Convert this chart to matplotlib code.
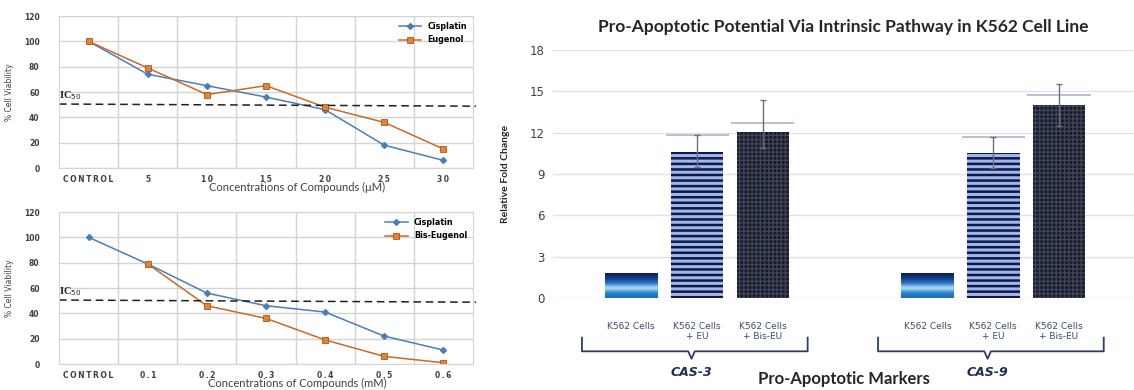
import numpy as np
import matplotlib
matplotlib.use("Agg")
import matplotlib.pyplot as plt
from matplotlib.colors import LinearSegmentedColormap

# ---- viability data (left panels) ----
conc_uM = ["CONTROL", "5", "10", "15", "20", "25", "30"]
cis_top = [100, 74, 65, 56, 46, 18, 6]
eugenol = [100, 79, 58, 65, 48, 36, 15]

conc_mM = ["CONTROL", "0.1", "0.2", "0.3", "0.4", "0.5", "0.6"]
cis_bottom = [100, 79, 56, 46, 41, 22, 11]
bis_eugenol = [np.nan, 79, 46, 36, 19, 6, 1]

# ---- fold change data (right panel) ----
bar_labels = ["K562 Cells", "K562 Cells\n+ EU", "K562 Cells\n+ Bis-EU"]
markers_names = ["CAS-3", "CAS-9"]
fold_cas3 = [1.8, 10.6, 12.05]
fold_cas9 = [1.8, 10.5, 14.0]
err_low_cas3 = [0, 1.1, 1.15]
err_up_cas3 = [0, 1.25, 2.35]
err_low_cas9 = [0, 1.1, 1.5]
err_up_cas9 = [0, 1.2, 1.5]
cap_cas3 = [np.nan, 11.8, 12.7]
cap_cas9 = [np.nan, 11.7, 14.75]

W, H = 1134, 390
fig = plt.figure(figsize=(W / 100, H / 100), dpi=100)


def px_axes(left, top, right, bottom):
    return fig.add_axes([left / W, 1 - bottom / H, (right - left) / W, (bottom - top) / H])


def viability_panel(ax, cats, cis, other, other_name, xlabel):
    x = np.arange(len(cats))
    ax.plot(x, cis, color="#4a7ebb", marker="D", ms=3, lw=1.1, label="Cisplatin")
    ax.plot(x, other, color="#c9692a", marker="s", ms=4.5, mfc="#e8822f",
            mec="#a8561f", mew=0.6, lw=1.1, label=other_name)
    ax.set_xlim(-0.5, len(cats) - 0.5)
    ax.set_ylim(0, 120)
    ax.set_yticks(range(0, 121, 20))
    ax.set_xticks(x)
    ax.set_xticklabels(["\u2009".join(c) for c in cats],
                       fontsize=5.5, fontweight="bold", color="#404040", family="DejaVu Sans")
    ax.tick_params(axis="y", labelsize=5.5, colors="#404040", length=0, pad=14)
    ax.tick_params(axis="x", length=0, pad=5)
    for lab in ax.get_yticklabels():
        lab.set_fontweight("bold")
    ax.set_xticks(np.arange(0.5, len(cats) - 0.5), minor=True)
    ax.tick_params(axis="x", which="minor", length=0)
    ax.grid(True, which="minor", axis="x", color="#d4d4d4", lw=1)
    ax.grid(True, which="major", axis="y", color="#d4d4d4", lw=1)
    for s in ax.spines.values():
        s.set_color("#d4d4d4")
    ax.set_axisbelow(True)
    ax.set_xlabel(xlabel, fontsize=8, color="#404040", family="Lato", labelpad=0)
    ax.xaxis.set_label_coords(0.575, -0.095)
    ax.set_ylabel("% Cell Viability", fontsize=5.5, color="#404040", family="DejaVu Sans",
                  labelpad=7)
    # IC50 reference line
    ax.plot([-0.5, len(cats) - 0.45], [50.5, 48.8], ls=(0, (5, 3)), color="#202020", lw=1.1,
            clip_on=False)
    ax.text(-0.5, 52, r"IC$_{50}$", family="Liberation Serif", fontsize=7.5,
            fontweight="bold", ha="left", va="bottom", color="#202020")
    ax.legend(loc="upper right", frameon=False, prop={"family": "DejaVu Sans", "weight": "bold",
                                                      "size": 5.8},
              handlelength=2.8, labelspacing=0.6, borderaxespad=0.3)


ax1 = px_axes(59, 16, 473, 168)
viability_panel(ax1, conc_uM, cis_top, eugenol, "Eugenol", "Concentrations of Compounds (\u03bcM)")
ax2 = px_axes(59, 212, 473, 364)
viability_panel(ax2, conc_mM, cis_bottom, bis_eugenol, "Bis-Eugenol",
                "Concentrations of Compounds (mM)")

# ---- right panel ----
ax3 = px_axes(553, 50, 1134, 298)
group_gap = 4.5
xs = [np.arange(3), np.arange(3) + group_gap]
folds = [fold_cas3, fold_cas9]
lows = [err_low_cas3, err_low_cas9]
ups = [err_up_cas3, err_up_cas9]
caps = [cap_cas3, cap_cas9]
bw = 0.8

grad = LinearSegmentedColormap.from_list(
    "k562", ["#0a1f5a", "#103a86", "#2c78c8", "#b5def7", "#2a84cc", "#1a6fbe"])

for gx, fv, lo, up, cp in zip(xs, folds, lows, ups, caps):
    b0 = ax3.bar(gx[0], fv[0], width=bw, color="none", edgecolor="none")[0]
    img = ax3.imshow(np.linspace(0, 1, 100).reshape(-1, 1), cmap=grad, aspect="auto",
                     extent=[gx[0] - bw / 2, gx[0] + bw / 2, 0, fv[0]], origin="upper",
                     zorder=2)
    img.set_clip_path(b0)
    plt.rcParams["hatch.linewidth"] = 1.8
    ax3.bar(gx[1], fv[1], width=bw, color="#a2b6ee", edgecolor="#0c1a45", lw=0,
            hatch="---", zorder=2)
    plt.rcParams["hatch.linewidth"] = 1.0
    ax3.bar(gx[2], fv[2], width=bw, color="#181b26", edgecolor="#3d4457", lw=0,
            hatch="++++", zorder=2)
    ax3.hlines(cp[1:], gx[1:] - 0.48, gx[1:] + 0.48, color="#aab6cf", lw=1.2, zorder=3)
    ax3.errorbar(gx[1:], fv[1:], yerr=[lo[1:], up[1:]], fmt="none", ecolor="#6a6f7a",
                 elinewidth=1, capsize=2, capthick=1, zorder=4)

ax3.set_xlim(-1.19, 7.64)
ax3.set_ylim(0, 18)
ax3.set_yticks(range(0, 19, 3))
ax3.tick_params(axis="y", length=0, labelsize=8.5, colors="#404040", pad=6)
ax3.grid(True, axis="y", color="#e2e2e2", lw=1)
ax3.set_axisbelow(True)
for s in ax3.spines.values():
    s.set_visible(False)
ax3.set_xticks(np.concatenate(xs))
ax3.set_xticklabels(bar_labels * 2, fontsize=6.5, color="#3c4a6e", family="DejaVu Sans")
ax3.tick_params(axis="x", length=0, pad=17)
ax3.set_title("Pro-Apoptotic Potential Via Intrinsic Pathway in K562 Cell Line",
              fontsize=12.5, fontweight="bold", family="Lato", color="#262626", pad=13)
ax3.set_ylabel("Relative Fold Change", fontsize=7.5, fontweight="bold", family="Lato",
               color="#262626", labelpad=14)

tr = ax3.get_xaxis_transform()
for gx, name in zip(xs, markers_names):
    x0, x1 = gx[0] - 0.75, gx[-1] + 0.68
    xm = (x0 + x1) / 2 - 0.05
    bx = [x0, x0, xm - 0.05, xm, xm + 0.05, x1, x1]
    by = [-0.16, -0.215, -0.215, -0.245, -0.215, -0.215, -0.16]
    ax3.plot(bx, by, transform=tr, color="#2e3c6c", lw=1.3, clip_on=False)
    ax3.text(xm, -0.3, name, transform=tr, ha="center", va="center", fontsize=9,
             fontweight="bold", style="italic", color="#1e2d5a", family="DejaVu Sans")

ax3.text(0.5, -0.325, "Pro-Apoptotic Markers", transform=ax3.transAxes, ha="center",
         va="center", fontsize=12, fontweight="bold", family="Lato", color="#262626")

fig.savefig("out.png", dpi=100)
